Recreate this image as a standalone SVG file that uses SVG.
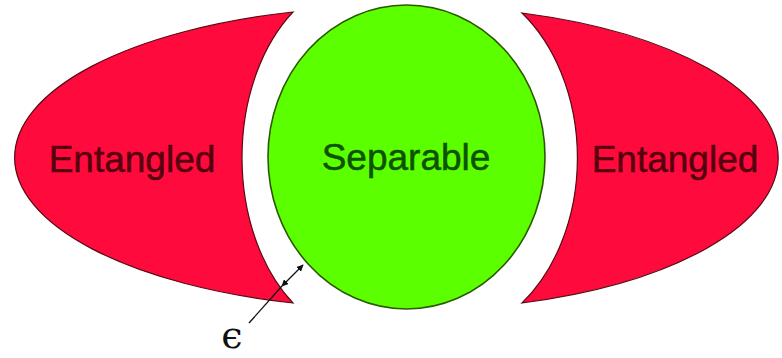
<svg xmlns="http://www.w3.org/2000/svg" width="782" height="358" viewBox="0 0 782 358">
  <style>
    .red { fill: #ff0a3c; stroke: #5a0a14; stroke-width: 1.2; }
    .green { fill: #5cff00; stroke: #2a5a00; stroke-width: 1.6; }
    .lbl { font-family: "Liberation Sans", Arial, sans-serif; font-size: 37px; text-anchor: middle; stroke-width: 0.5px; }
    .lred { fill: #55000e; stroke: #55000e; }
    .lgreen { fill: #0c5200; stroke: #0c5200; }
    .conn { stroke: #111; stroke-width: 1.3; fill: none; }
  </style>
  <defs>
    <marker id="ah" viewBox="0 0 10 10" refX="9" refY="5" markerWidth="7" markerHeight="7" orient="auto-start-reverse" markerUnits="userSpaceOnUse">
      <path d="M0,0 L10,5 L0,10 z" fill="#111"/>
    </marker>
  </defs>
  <rect width="782" height="358" fill="#ffffff"/>
  <g id="entangled-left">
    <path class="red" d="M 293 12 A 380 151 0 0 0 293 303 A 124 180 0 0 1 293 12 Z"/>
    <text class="lbl lred" x="132" y="172">Entangled</text>
  </g>
  <g id="entangled-right">
    <path class="red" d="M 522 13 A 366 152 0 0 1 522 303 A 136 180 0 0 0 522 13 Z"/>
    <text class="lbl lred" x="675" y="172">Entangled</text>
  </g>
  <g id="separable">
    <ellipse class="green" cx="406.5" cy="157" rx="138.5" ry="152"/>
    <text class="lbl lgreen" x="406" y="170">Separable</text>
  </g>
  <g id="connectors">
    <line class="conn" x1="282" y1="286" x2="303" y2="265" marker-start="url(#ah)" marker-end="url(#ah)"/>
    <line class="conn" x1="249" y1="323" x2="282" y2="286"/>
  </g>
  <g id="epsilon">
    <text x="232" y="348" font-family="DejaVu Serif, serif" font-size="38" text-anchor="middle" fill="#111">ϵ</text>
  </g>
</svg>
